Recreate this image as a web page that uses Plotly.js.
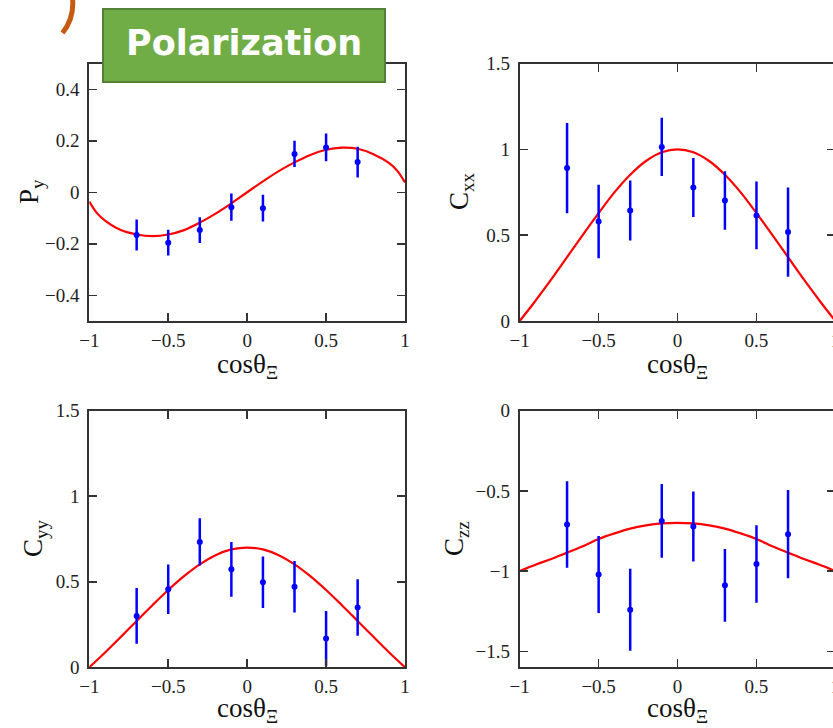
<!DOCTYPE html>
<html>
<head>
<meta charset="utf-8">
<script src="https://cdn.plot.ly/plotly-3.0.1.min.js"></script>
<style>
html, body { margin: 0; padding: 0; overflow: hidden; background: #fff; }
#plot { width: 1000px; height: 728px; }
</style>
</head>
<body>
<div id="plot"></div>
<script>
// ---- data ----
const xPts = [-0.7, -0.5, -0.3, -0.1, 0.1, 0.3, 0.5, 0.7];

const pyVal = [-0.166, -0.196, -0.147, -0.058, -0.062, 0.149, 0.174, 0.117];
const pyErr = [0.060, 0.050, 0.050, 0.053, 0.052, 0.051, 0.054, 0.060];

const cxxVal = [0.891, 0.580, 0.644, 1.014, 0.778, 0.702, 0.615, 0.518];
const cxxErr = [0.263, 0.214, 0.175, 0.170, 0.172, 0.170, 0.197, 0.260];

const cyyVal = [0.300, 0.456, 0.733, 0.573, 0.497, 0.471, 0.169, 0.349];
const cyyErr = [0.163, 0.145, 0.138, 0.160, 0.150, 0.150, 0.160, 0.165];

const czzVal = [-0.710, -1.021, -1.241, -0.687, -0.722, -1.089, -0.956, -0.770];
const czzErr = [0.270, 0.240, 0.256, 0.230, 0.218, 0.227, 0.242, 0.275];

const curveX = [-1, -0.95, -0.9, -0.8, -0.7, -0.6, -0.5, -0.4, -0.3, -0.2, -0.1, 0,
                0.1, 0.2, 0.3, 0.4, 0.5, 0.6, 0.7, 0.8, 0.9, 0.95, 1];
const pyCurve = [-0.036, -0.082, -0.110, -0.147, -0.164, -0.170, -0.164, -0.147, -0.118, -0.083, -0.043, 0,
                 0.042, 0.082, 0.116, 0.145, 0.165, 0.173, 0.169, 0.148, 0.113, 0.084, 0.038];
const cxxCurve = [0, 0.058, 0.118, 0.242, 0.372, 0.502, 0.628, 0.749, 0.852, 0.932, 0.983, 1,
                  0.983, 0.932, 0.852, 0.749, 0.628, 0.502, 0.372, 0.242, 0.118, 0.058, 0];
const cyyCurve = [0, 0.043, 0.087, 0.178, 0.271, 0.363, 0.452, 0.533, 0.602, 0.655, 0.689, 0.70,
                  0.689, 0.655, 0.602, 0.533, 0.452, 0.363, 0.271, 0.178, 0.087, 0.043, 0];
const czzCurve = [-1.0, -0.98, -0.96, -0.925, -0.885, -0.845, -0.80, -0.765, -0.735, -0.715, -0.703, -0.70,
                  -0.703, -0.715, -0.735, -0.765, -0.80, -0.845, -0.885, -0.925, -0.96, -0.98, -1.0];

const yTitles = ['P<sub>y</sub>', 'C<sub>xx</sub>', 'C<sub>yy</sub>', 'C<sub>zz</sub>'];
const xTitle = 'cosθ<sub>Ξ</sub>';
const boxLabel = 'Polarization';

// ---- traces ----
const panels = [
  {vals: pyVal, errs: pyErr, curve: pyCurve, xa: 'x', ya: 'y'},
  {vals: cxxVal, errs: cxxErr, curve: cxxCurve, xa: 'x2', ya: 'y2'},
  {vals: cyyVal, errs: cyyErr, curve: cyyCurve, xa: 'x3', ya: 'y3'},
  {vals: czzVal, errs: czzErr, curve: czzCurve, xa: 'x4', ya: 'y4'}
];
const traces = [];
panels.forEach(p => {
  traces.push({
    x: curveX, y: p.curve, xaxis: p.xa, yaxis: p.ya, type: 'scatter', mode: 'lines',
    line: {color: '#ff0000', width: 2.2, shape: 'spline', smoothing: 1}, hoverinfo: 'skip'
  });
  traces.push({
    x: xPts, y: p.vals, xaxis: p.xa, yaxis: p.ya, type: 'scatter', mode: 'markers',
    marker: {color: '#0000ff', size: 6},
    error_y: {type: 'data', array: p.errs, visible: true, color: '#0000ff', thickness: 2.5, width: 0}
  });
});

// ---- layout ----
const W = 1000, H = 728;
const tickFont = {family: 'Liberation Serif, Times New Roman, serif', size: 19, color: '#222'};
function ax(extra) {
  return Object.assign({
    showline: true, mirror: 'ticks', linecolor: '#333', linewidth: 2,
    ticks: 'inside', ticklen: 8, tickwidth: 1.5, tickcolor: '#333',
    showgrid: false, zeroline: false, tickfont: tickFont, ticklabelstandoff: 4,
    fixedrange: true
  }, extra);
}
const xL = [89.3 / W, 405 / W], xR = [519.7 / W, 835.4 / W];
const yT = [1 - 321 / H, 1 - 63.5 / H], yB = [1 - 667.3 / H, 1 - 410.7 / H];
const xr = [-1, 1];
const xt = {range: xr, tick0: -1, dtick: 0.5, ticklabelstandoff: 1};

const titleFont = {family: 'Liberation Serif, Times New Roman, serif', size: 27, color: '#111'};
function px(v) { return v / W; }
function py(v) { return 1 - v / H; }
const annotations = [
  {text: yTitles[0], x: px(31), y: py(192), textangle: -90},
  {text: yTitles[1], x: px(461), y: py(192), textangle: -90},
  {text: yTitles[2], x: px(35), y: py(539), textangle: -90},
  {text: yTitles[3], x: px(456), y: py(539), textangle: -90},
  {text: xTitle, x: px(247), y: py(366)},
  {text: xTitle, x: px(677), y: py(366)},
  {text: xTitle, x: px(247), y: py(710)},
  {text: xTitle, x: px(677), y: py(710)}
].map(a => Object.assign({xref: 'paper', yref: 'paper', showarrow: false,
  xanchor: 'center', yanchor: 'middle', font: titleFont}, a));

annotations.push({
  text: boxLabel, xref: 'paper', yref: 'paper', x: px(244), y: py(43),
  xanchor: 'center', yanchor: 'middle', showarrow: false,
  font: {family: 'DejaVu Sans, sans-serif', size: 35, color: '#ffffff', weight: 'bold'}
});

const shapes = [
  {type: 'rect', xref: 'paper', yref: 'paper', x0: px(103), x1: px(385), y0: py(82), y1: py(9),
   fillcolor: '#70ad47', line: {color: '#548235', width: 2}, layer: 'above'},
  {type: 'path', xref: 'paper', yref: 'paper',
   path: 'M ' + px(72.5) + ',' + py(-2) + ' Q ' + px(74.5) + ',' + py(18) + ' ' + px(62.5) + ',' + py(33),
   line: {color: '#c55a11', width: 5}, layer: 'above'}
];

const layout = {
  width: W, height: H, margin: {l: 0, r: 0, t: 0, b: 0},
  paper_bgcolor: '#ffffff', plot_bgcolor: '#ffffff', showlegend: false,
  xaxis: ax(Object.assign({domain: xL, anchor: 'y'}, xt)),
  yaxis: ax({domain: yT, anchor: 'x', range: [-0.5, 0.5], tick0: 0, dtick: 0.2}),
  xaxis2: ax(Object.assign({domain: xR, anchor: 'y2'}, xt)),
  yaxis2: ax({domain: yT, anchor: 'x2', range: [0, 1.5], tick0: 0, dtick: 0.5}),
  xaxis3: ax(Object.assign({domain: xL, anchor: 'y3'}, xt)),
  yaxis3: ax({domain: yB, anchor: 'x3', range: [0, 1.5], tick0: 0, dtick: 0.5}),
  xaxis4: ax(Object.assign({domain: xR, anchor: 'y4'}, xt)),
  yaxis4: ax({domain: yB, anchor: 'x4', range: [-1.6, 0], tick0: 0, dtick: 0.5}),
  annotations: annotations,
  shapes: shapes
};

Plotly.newPlot('plot', traces, layout, {staticPlot: true, displayModeBar: false});
</script>
</body>
</html>
